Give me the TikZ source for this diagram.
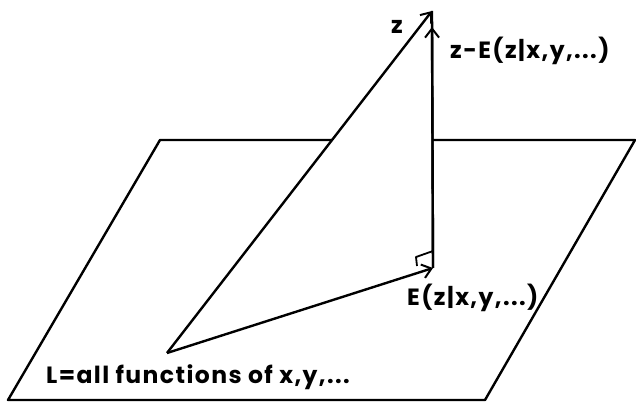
\documentclass[tikz,border=0pt]{standalone}
\usepackage{fontspec}
\setmainfont{Poppins}[LetterSpace=6]
\usetikzlibrary{arrows.meta,calc}

\begin{document}
\begin{tikzpicture}[x=1pt,y=1pt,line width=2.4pt,line join=round,
  vec/.style={-{Straight Barb[length=9pt,width=14pt,line width=2pt]}},
  lbl/.style={font=\fontsize{23.5}{28}\selectfont\bfseries,inner sep=0pt}]
  \useasboundingbox (0,0) rectangle (636,407);
  % plane L
  \coordinate (BL) at (8,7);
  \coordinate (BR) at (485,7);
  \coordinate (TR) at (635,267);
  \coordinate (TL) at (160,267);
  \coordinate (O) at (167,54);
  \coordinate (E) at (433,139);
  \coordinate (Z) at (432,396);
  \coordinate (Zcut) at (332,267);
  \coordinate (Ecut) at (433,267);
  \draw (Zcut) -- (TL) -- (BL) -- (BR) -- (TR) -- (Ecut);
  % vectors
  \draw[vec] (O) -- (Z);
  \draw[vec] (O) -- (E);
  \draw (E) -- (Z);
  \draw[vec] (E) -- ($(Z)+(0,-16)$);
  \draw[line width=1.8pt] ($(E)+(0,17)$) -- ++(-17,-6) -- ++(1,-9);
  % labels
  \node[lbl,anchor=east] (zlab) at (404,380) {z};
  \node[lbl,anchor=west] (reslab) at (449,356) {z-E(z|x,y,...)};
  \node[lbl,anchor=west] (projlab) at (406,109) {E(z|x,y,...)};
  \node[lbl,anchor=west] (planelab) at (45,30) {L=all functions of x,y,...};
\end{tikzpicture}
\end{document}
